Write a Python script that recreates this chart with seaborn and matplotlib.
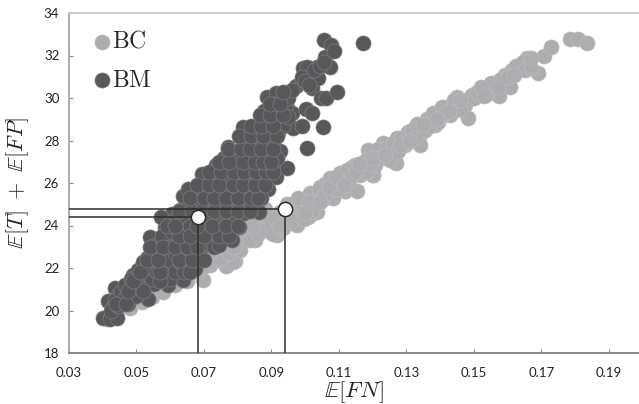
import matplotlib
matplotlib.use('Agg')
import matplotlib.pyplot as plt
import seaborn as sns
import pandas as pd

# valeurs
bc_x = [.0413, .0443, .0481, .0515, .0546, .0580, .0614, .0650, .0673, .0698, .0660, .0700, .0733, .0718,
        .0767, .0792, .0765, .0787, .0777, .0762, .0807, .0836, .0841, .0851, .0881, .0896, .0915, .0915,
        .0925, .0940, .0967, .0970, .0975, .0984, .1009, .1014, .1014, .1029, .1034, .1044, .1059, .1073,
        .1073, .1073, .1083, .1103, .1103, .1118, .1118, .1118, .1138, .1147, .1152, .1162, .1167, .1192,
        .1187, .1200, .1202, .1207, .1219, .1231, .1251, .1266, .1269, .1271, .1296, .1296, .1305, .1340,
        .1340, .1345, .1384, .1392, .1394, .1419, .1429, .1448, .1451, .1473, .1478, .1481, .1493, .1528,
        .1552, .1567, .1574, .1592, .1607, .1612, .1636, .1656, .1661, .1691, .1708, .1727, .1784, .1809,
        .1834]
bc_y = [19.60, 19.95, 20.12, 20.38, 20.64, 20.85, 21.20, 21.40, 21.85, 21.45, 22.20, 22.60, 22.75, 22.14,
        22.13, 22.31, 22.09, 22.30, 23.18, 22.61, 22.85, 23.79, 23.38, 23.32, 24.21, 23.69, 23.61, 23.55,
        24.64, 24.16, 25.06, 24.08, 24.02, 24.59, 24.38, 25.53, 24.49, 24.96, 24.65, 25.83, 25.95, 25.44,
        26.22, 25.36, 25.28, 26.42, 26.46, 26.00, 25.64, 25.64, 26.77, 26.85, 25.64, 26.38, 26.93, 27.32,
        27.55, 26.38, 26.38, 26.85, 27.32, 27.86, 27.46, 27.00, 26.96, 28.10, 27.79, 28.18, 28.42, 28.26,
        27.79, 28.68, 28.73, 29.28, 28.89, 29.59, 29.20, 29.44, 30.07, 29.67, 29.91, 29.05, 30.14, 30.25,
        30.46, 30.77, 30.11, 31.08, 30.54, 31.32, 31.40, 31.87, 31.72, 31.16, 31.99, 32.41, 32.78, 32.76,
        32.60]
# points du milieu de la bande
bc_band = [(.0725, 22.3), (.0745, 22.4), (.0750, 23.0), (.0775, 22.7), (.0790, 23.0), (.0800, 23.6),
           (.0820, 23.4), (.0820, 24.0), (.0835, 23.3), (.0860, 23.6), (.0865, 24.2), (.0875, 23.8),
           (.0890, 24.4), (.0900, 24.0), (.0905, 23.6), (.0935, 23.9), (.0950, 24.4), (.0955, 24.9),
           (.0960, 24.2), (.0990, 24.9), (.0995, 24.3), (.1000, 25.2), (.1020, 24.7), (.1040, 25.7),
           (.1050, 25.2), (.1060, 25.5), (.1085, 25.9), (.1095, 25.7), (.1110, 26.3), (.1125, 26.6),
           (.1130, 26.1), (.1140, 26.4), (.1170, 26.7), (.1180, 26.5), (.1180, 27.1), (.1195, 26.9),
           (.1215, 27.6), (.1225, 27.2), (.1240, 27.6), (.1250, 27.1), (.1260, 27.9), (.1275, 27.5),
           (.1285, 28.1), (.1300, 27.9), (.1315, 28.5), (.1325, 28.1), (.1330, 28.8), (.1355, 28.5),
           (.1360, 29.0), (.1370, 28.7), (.1380, 29.3), (.1400, 29.1), (.1405, 29.6), (.1415, 29.3),
           (.1435, 29.6), (.1440, 29.9), (.1460, 29.5), (.1500, 30.0), (.1510, 30.3), (.1540, 30.2),
           (.1550, 30.7), (.1580, 30.9), (.1600, 31.1), (.1625, 31.5), (.1645, 31.7), (.1650, 31.3),
           (.1670, 31.4), (.1670, 31.9), (.0695, 22.0), (.0715, 22.7), (.0740, 23.0), (.0785, 23.4),
           (.0805, 24.0), (.0845, 24.0), (.0855, 24.5), (.0880, 24.8), (.0910, 24.3), (.0925, 24.0),
           (.0945, 25.0), (.0980, 25.3), (.1000, 24.6), (.1010, 25.1), (.1045, 25.1), (.1070, 25.8),
           (.1090, 26.3), (.1115, 25.9), (.1150, 26.5), (.1160, 26.9), (.1200, 27.2), (.1235, 27.3),
           (.1280, 27.8), (.1310, 28.0), (.1350, 28.8), (.1390, 29.0), (.1425, 29.4), (.1460, 29.9),
           (.1520, 30.5), (.1530, 30.1), (.1570, 30.5), (.1600, 31.0), (.1620, 31.1)]

bm_x = [.0402, .0421, .0443, .0416, .0436, .0446, .0428, .0456, .0476, .0491, .0472, .0510, .0535, .0535,
        .0498, .0522, .0551, .0578, .0594, .0540, .0568, .0619, .0637, .0637, .0673, .0604, .0531, .0558,
        .0592, .0625, .0655, .0585, .0612, .0641, .0668, .0703, .0716, .0572, .0603, .0628, .0662, .0694,
        .0718, .0749, .0639, .0661, .0692, .0722, .0748, .0773, .0782, .0805, .0653, .0684, .0709, .0733,
        .0777, .0812, .0831, .0863, .0695, .0716, .0745, .0769, .0802, .0837, .0861, .0891, .0735, .0763,
        .0796, .0826, .0853, .0876, .0913, .0947, .0770, .0802, .0819, .0851, .0876, .0925, .0815, .0845,
        .0866, .0901, .0879, .0893, .0930, .0886, .0913, .0945, .0960, .0963, .0991, .1001, .1019, .1006,
        .1052, .0973, .0989, .1014, .1019, .1039, .1034, .0994, .1006, .1046, .1061, .1093, .1059, .1073,
        .1056, .1076, .1086, .1172]
bm_y = [19.65, 19.61, 19.65, 20.43, 21.06, 20.74, 20.10, 20.30, 20.32, 21.68, 21.10, 21.07, 21.89, 20.56,
        20.78, 21.40, 21.25, 21.58, 21.18, 23.46, 22.75, 23.61, 22.75, 21.45, 21.97, 24.56, 22.48, 23.10,
        22.28, 22.10, 22.60, 23.92, 23.28, 23.74, 23.22, 23.08, 23.66, 24.42, 24.16, 24.72, 24.05, 24.48,
        24.12, 24.38, 25.39, 25.05, 25.30, 24.96, 25.18, 24.82, 23.32, 23.91, 25.74, 25.82, 25.62, 25.44,
        25.67, 25.10, 26.07, 24.65, 26.42, 26.01, 26.28, 26.61, 26.12, 25.86, 25.83, 25.70, 26.85, 27.10,
        26.72, 26.96, 26.58, 27.08, 26.30, 26.69, 27.71, 27.38, 27.68, 27.48, 27.78, 27.52, 28.62, 28.10,
        28.26, 28.65, 29.40, 28.92, 29.86, 30.03, 30.22, 29.52, 29.28, 28.60, 28.70, 29.47, 29.28, 27.63,
        28.62, 30.58, 30.85, 31.00, 30.46, 30.96, 31.47, 31.39, 31.47, 29.99, 29.99, 30.30, 31.93, 31.47,
        32.73, 32.49, 32.23, 32.58]
# coeur du nuage BM
bm_coeur = [(.0425, 20.0), (.0435, 20.5), (.0445, 20.2), (.0455, 20.9), (.0465, 21.2), (.0465, 20.6),
            (.0485, 20.9), (.0485, 21.5), (.0500, 20.7), (.0505, 21.3), (.0505, 21.9), (.0515, 21.0),
            (.0520, 22.3), (.0530, 21.7), (.0530, 22.2), (.0545, 21.5), (.0545, 22.0), (.0550, 22.6),
            (.0560, 21.8), (.0560, 23.1), (.0570, 22.2), (.0575, 23.5), (.0585, 21.9), (.0585, 22.7),
            (.0600, 21.5), (.0600, 22.4), (.0600, 23.0), (.0605, 23.7), (.0615, 21.8), (.0615, 22.7),
            (.0620, 24.3), (.0630, 22.3), (.0630, 23.0), (.0630, 24.0), (.0640, 22.9), (.0645, 24.4),
            (.0650, 22.3), (.0650, 23.5), (.0655, 24.9), (.0660, 24.0), (.0670, 22.7), (.0675, 23.6),
            (.0680, 24.7), (.0685, 22.5), (.0690, 23.3), (.0690, 25.2), (.0700, 24.0), (.0705, 25.6),
            (.0710, 23.2), (.0715, 24.5), (.0720, 23.6), (.0725, 25.3), (.0730, 26.3), (.0735, 24.0),
            (.0740, 25.0), (.0740, 26.7), (.0750, 23.8), (.0755, 24.8), (.0755, 26.0), (.0760, 25.5),
            (.0760, 27.2), (.0770, 24.2), (.0775, 26.2), (.0780, 24.7), (.0785, 25.2), (.0785, 26.9),
            (.0790, 27.5), (.0795, 24.4), (.0800, 25.8), (.0805, 24.9), (.0810, 26.4), (.0810, 27.3),
            (.0815, 25.4), (.0820, 24.6), (.0825, 26.7), (.0825, 27.9), (.0830, 25.6), (.0840, 24.9),
            (.0840, 26.3), (.0840, 27.2), (.0845, 25.3), (.0850, 27.7), (.0855, 26.0), (.0860, 28.3),
            (.0865, 26.8), (.0870, 25.3), (.0870, 27.4), (.0875, 26.2), (.0880, 28.0), (.0885, 27.0),
            (.0890, 26.5), (.0895, 27.6), (.0900, 28.2), (.0905, 26.9), (.0905, 27.9), (.0915, 27.2),
            (.0920, 28.4), (.0910, 29.2), (.0925, 29.3), (.0935, 28.7), (.0940, 29.6), (.0905, 29.7),
            (.0950, 29.1), (.0950, 30.0), (.0960, 30.4), (.0990, 31.0), (.1000, 30.8), (.1025, 31.3),
            (.1010, 30.6), (.1045, 31.5), (.1055, 31.7)]
# points qui bouchent les trous du nuage
bm_trous = [(.0440, 20.3), (.0470, 20.3), (.0475, 20.9), (.0520, 20.9), (.0490, 21.4), (.0570, 21.4),
            (.0510, 21.8), (.0570, 21.8), (.0640, 21.8), (.0660, 21.8), (.0530, 22.4), (.0565, 22.4),
            (.0625, 22.4), (.0665, 22.4), (.0700, 22.4), (.0540, 23.0), (.0580, 23.0), (.0615, 23.0),
            (.0650, 23.0), (.0680, 23.0), (.0730, 23.0), (.0745, 23.1), (.0625, 23.5), (.0660, 23.5),
            (.0700, 23.5), (.0745, 23.5), (.0775, 23.5), (.0590, 24.0), (.0615, 24.0), (.0680, 24.0),
            (.0725, 24.0), (.0765, 24.0), (.0800, 24.0), (.0625, 24.7), (.0665, 24.7), (.0695, 24.7),
            (.0730, 24.7), (.0765, 24.7), (.0800, 24.7), (.0835, 24.7), (.0660, 25.3), (.0700, 25.3),
            (.0730, 25.3), (.0765, 25.3), (.0800, 25.3), (.0840, 25.3), (.0860, 25.3), (.0680, 25.9),
            (.0715, 25.9), (.0745, 25.9), (.0785, 25.9), (.0815, 25.9), (.0850, 25.9), (.0880, 25.9),
            (.0715, 26.5), (.0750, 26.5), (.0790, 26.5), (.0820, 26.5), (.0855, 26.5), (.0885, 26.5),
            (.0905, 26.5), (.0745, 27.0), (.0775, 27.0), (.0815, 27.0), (.0850, 27.0), (.0875, 27.0),
            (.0900, 27.0), (.0770, 27.6), (.0810, 27.6), (.0835, 27.6), (.0870, 27.6), (.0905, 27.6),
            (.0805, 28.2), (.0840, 28.2), (.0875, 28.2), (.0915, 28.2), (.0840, 28.7), (.0870, 28.7),
            (.0905, 28.7), (.0865, 29.2), (.0895, 29.2), (.0935, 29.2), (.0895, 29.7), (.0925, 29.7),
            (.0935, 30.3)]

opt_x = [.0682, .0941]
opt_y = [24.40, 24.78]
xticks = [.03, .05, .07, .09, .11, .13, .15, .17, .19]
yticks = [18, 20, 22, 24, 26, 28, 30, 32, 34]

bc = pd.DataFrame({'fn': bc_x + [p[0] for p in bc_band], 'cout': bc_y + [p[1] for p in bc_band]})
bm_pts = bm_coeur + bm_trous
bm = pd.DataFrame({'fn': bm_x + [p[0] for p in bm_pts], 'cout': bm_y + [p[1] for p in bm_pts]})

sns.set_style('white')
plt.rcParams['font.family'] = ['Lato', 'DejaVu Sans']
plt.rcParams['mathtext.fontset'] = 'cm'

fig = plt.figure(figsize=(6.39, 4.04), dpi=100)
ax = fig.add_axes([69 / 639, 51 / 404, 570 / 639, 340 / 404])

sns.scatterplot(data=bc, x='fn', y='cout', ax=ax, color='#adadb0', s=118,
                edgecolor='#bcbcbe', linewidth=0.5, label=r'$\mathrm{BC}$', zorder=2)
sns.scatterplot(data=bm, x='fn', y='cout', ax=ax, color='#58585a', s=118,
                edgecolor='#7e7e80', linewidth=0.5, label=r'$\mathrm{BM}$', zorder=3)

# lignes de lecture
for vx, vy in zip(opt_x, opt_y):
    ax.plot([.03, vx], [vy, vy], color='#2b2b2b', lw=1.1, zorder=4)
    ax.plot([vx, vx], [18, vy], color='#2b2b2b', lw=1.1, zorder=4)
sns.scatterplot(x=opt_x, y=opt_y, ax=ax, color='white', s=105, edgecolor='#2b2b2b',
                linewidth=1.1, zorder=5, clip_on=False)

ax.set_xlim(.03, .1989)
ax.set_ylim(18, 34)
ax.set_xticks(xticks)
ax.set_xticklabels(['%.2f' % t for t in xticks])
ax.set_yticks(yticks)
ax.tick_params(axis='both', direction='in', length=3, width=0.8, color='#8c8c8c',
               labelsize=9.5, labelcolor='#222222', bottom=True, left=True, pad=7)
ax.tick_params(axis='x', pad=10)
ax.set_xlabel(r'$\mathbb{E}[FN]$', fontsize=16.5, labelpad=0)
ax.set_ylabel(r'$\mathbb{E}[T]\ +\ \mathbb{E}[FP]$', fontsize=16, labelpad=9)

ax.spines['right'].set_visible(False)
ax.spines['top'].set_color('#c8c8c8')
ax.spines['left'].set_color('#a6a6a6')
ax.spines['bottom'].set_color('#808080')
for s in ['top', 'left', 'bottom']:
    ax.spines[s].set_linewidth(1.3)

ax.legend(loc='upper left', bbox_to_anchor=(-0.005, 1.02), frameon=False, fontsize=17,
          handlelength=1, handletextpad=-0.05, labelspacing=0.75, borderaxespad=0.6)

fig.savefig('out.png', dpi=100)
